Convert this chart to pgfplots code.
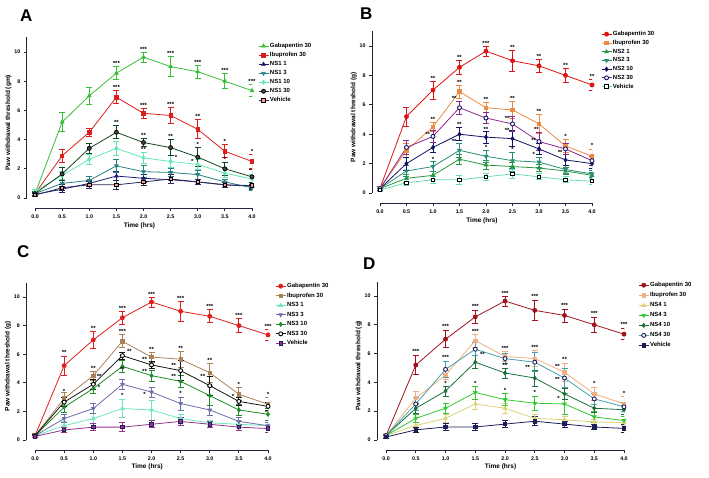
\documentclass[border=0pt]{standalone}
\usepackage{pgfplots}
\pgfplotsset{compat=1.18}
\usepackage{pgfplotstable}
\usepackage{fontspec}
\setmainfont{Liberation Sans}

% columns: t time, g gabapentin, i ibuprofen, a/b/c/d doses 1/3/10/30, v vehicle; *e = error
\pgfplotstableread{
t   g    ge   i    ie   a    ae   b    be   c    ce   d    de   v    ve
0.0 0.30 0.15 0.30 0.15 0.25 0.10 0.30 0.15 0.45 0.15 0.30 0.15 0.20 0.10
0.5 5.20 0.65 2.90 0.45 0.60 0.20 1.00 0.25 1.55 0.30 1.65 0.45 0.70 0.20
1.0 7.00 0.60 4.50 0.30 1.00 0.20 1.20 0.30 2.65 0.35 3.40 0.35 0.90 0.25
1.5 8.55 0.45 6.90 0.45 1.50 0.30 2.20 0.45 3.40 0.50 4.50 0.45 0.90 0.30
2.0 9.65 0.35 5.80 0.35 1.35 0.25 1.80 0.40 2.75 0.40 3.80 0.25 1.10 0.25
2.5 9.00 0.70 5.65 0.55 1.25 0.25 1.75 0.30 2.50 0.40 3.45 0.55 1.30 0.30
3.0 8.65 0.45 4.70 0.65 1.10 0.20 1.60 0.30 2.30 0.35 2.80 0.65 1.10 0.20
3.5 8.00 0.50 3.20 0.45 0.90 0.20 1.10 0.20 1.70 0.30 2.00 0.45 0.90 0.20
4.0 7.35 0.40 2.50 0.50 0.80 0.15 0.70 0.20 1.30 0.30 1.45 0.50 0.85 0.25
}\tabA
\pgfplotstableread{
t   g    ge   i    ie   a    ae   b    be   c    ce   d    de   v    ve
0.0 0.30 0.15 0.30 0.15 0.30 0.15 0.30 0.15 0.30 0.15 0.30 0.15 0.20 0.10
0.5 5.20 0.65 2.90 0.45 1.00 0.25 1.50 0.35 2.00 0.45 3.10 0.45 0.70 0.20
1.0 7.00 0.60 4.50 0.30 1.20 0.30 1.80 0.35 3.10 0.35 3.85 0.40 0.90 0.25
1.5 8.55 0.45 6.90 0.45 2.30 0.35 2.90 0.45 4.00 0.45 5.80 0.45 0.90 0.30
2.0 9.65 0.35 5.80 0.35 1.90 0.30 2.50 0.40 3.80 0.40 5.10 0.35 1.10 0.25
2.5 9.00 0.70 5.65 0.55 1.80 0.30 2.20 0.55 3.70 0.55 4.70 0.50 1.30 0.30
3.0 8.65 0.45 4.70 0.65 1.70 0.25 2.10 0.35 3.00 0.40 3.50 0.60 1.10 0.20
3.5 8.00 0.50 3.20 0.45 1.50 0.25 1.60 0.30 2.25 0.35 3.00 0.35 0.90 0.20
4.0 7.35 0.40 2.50 0.50 1.20 0.20 1.30 0.25 2.00 0.30 2.20 0.30 0.80 0.20
}\tabB
\pgfplotstableread{
t   g    ge   i    ie   a    ae   b    be   c    ce   d    de   v    ve
0.0 0.30 0.15 0.30 0.15 0.30 0.10 0.30 0.10 0.30 0.10 0.30 0.10 0.25 0.10
0.5 5.20 0.65 2.90 0.45 1.00 0.30 1.50 0.30 2.30 0.40 2.65 0.30 0.70 0.20
1.0 7.00 0.60 4.50 0.30 1.50 0.35 2.20 0.35 3.60 0.35 3.90 0.35 0.90 0.25
1.5 8.55 0.45 6.90 0.45 2.20 0.65 3.90 0.35 5.15 0.45 5.90 0.25 0.90 0.30
2.0 9.65 0.35 5.80 0.35 2.10 0.70 3.35 0.35 4.50 0.40 5.25 0.25 1.10 0.25
2.5 9.00 0.70 5.65 0.55 1.50 0.30 2.55 0.45 4.10 0.45 4.85 0.70 1.30 0.30
3.0 8.65 0.45 4.70 0.65 1.20 0.20 2.10 0.35 3.10 0.65 3.80 0.65 1.10 0.20
3.5 8.00 0.50 3.20 0.45 1.10 0.20 1.30 0.25 2.10 0.40 2.70 0.25 0.90 0.20
4.0 7.35 0.40 2.50 0.50 1.00 0.20 1.00 0.20 1.80 0.40 2.35 0.25 0.80 0.25
}\tabC
\pgfplotstableread{
t   g    ge   i    ie   a    ae   b    be   c    ce   d    de   v    ve
0.0 0.30 0.15 0.30 0.15 0.30 0.10 0.30 0.10 0.30 0.10 0.30 0.10 0.20 0.10
0.5 5.20 0.65 2.90 0.45 1.00 0.20 1.50 0.30 2.20 0.35 2.50 0.45 0.70 0.20
1.0 7.00 0.60 4.50 0.30 1.50 0.30 2.20 0.35 3.40 0.35 4.90 0.55 0.90 0.25
1.5 8.55 0.45 6.90 0.45 2.50 0.35 3.30 0.45 5.40 0.45 6.30 0.45 0.90 0.25
2.0 9.65 0.35 5.80 0.35 2.20 0.35 2.80 0.40 4.65 0.35 5.65 0.35 1.10 0.25
2.5 9.00 0.70 5.65 0.55 1.50 0.25 2.55 0.50 4.30 0.55 5.40 0.65 1.30 0.30
3.0 8.65 0.45 4.70 0.65 1.40 0.25 2.50 0.75 3.20 0.40 4.30 0.65 1.10 0.20
3.5 8.00 0.50 3.20 0.45 1.25 0.20 1.60 0.35 2.20 0.30 2.85 0.35 0.90 0.20
4.0 7.35 0.40 2.50 0.50 1.20 0.20 1.35 0.30 2.10 0.30 2.30 0.30 0.80 0.25
}\tabD

\definecolor{axc}{RGB}{35,35,60}
% panel A
\definecolor{gA}{RGB}{55,190,55}
\definecolor{iA}{RGB}{220,30,30}
\definecolor{aA}{RGB}{30,30,110}
\definecolor{bA}{RGB}{40,130,130}
\definecolor{cA}{RGB}{100,230,180}
\definecolor{dA}{RGB}{20,70,30}
\definecolor{vA}{RGB}{40,40,90}
% panel B
\definecolor{gB}{RGB}{220,20,20}
\definecolor{iB}{RGB}{235,140,70}
\definecolor{aB}{RGB}{40,150,60}
\definecolor{bB}{RGB}{40,140,120}
\definecolor{cB}{RGB}{20,20,100}
\definecolor{dB}{RGB}{140,40,140}
\definecolor{vB}{RGB}{100,220,180}
% panel C
\definecolor{gC}{RGB}{225,30,30}
\definecolor{iC}{RGB}{170,130,90}
\definecolor{aC}{RGB}{110,230,190}
\definecolor{bC}{RGB}{110,110,170}
\definecolor{cC}{RGB}{30,140,40}
\definecolor{dC}{RGB}{20,20,20}
\definecolor{vC}{RGB}{150,50,140}
% panel D
\definecolor{gD}{RGB}{160,20,30}
\definecolor{iD}{RGB}{240,175,130}
\definecolor{aD}{RGB}{220,210,120}
\definecolor{bD}{RGB}{50,200,50}
\definecolor{cD}{RGB}{30,110,60}
\definecolor{dD}{RGB}{70,160,170}
\definecolor{vD}{RGB}{30,30,90}

\pgfplotsset{
  panel/.style={
    scale only axis,
    xmin=-0.15, xmax=4, ymin=-0.7, ymax=11,
    axis x line=bottom, axis y line=left,
    x axis line style={-, shorten <=8.5pt, line width=0.9pt, axc},
    y axis line style={-, shorten <=10pt, line width=0.9pt, axc},
    xtick={0,0.5,...,4}, ytick={0,2,...,10},
    tick align=outside, major tick length=3pt,
    tick style={line width=0.8pt, axc},
    /pgf/number format/assume math mode=true,
    ticklabel style={font=\fontsize{5.3}{6}\selectfont\bfseries},
    xticklabel style={/pgf/number format/.cd, fixed, fixed zerofill, precision=1},
    yticklabel style={/pgf/number format/.cd, fixed, precision=0},
    xlabel={Time (hrs)},
    label style={font=\fontsize{6.5}{7}\selectfont\bfseries},
    xlabel style={yshift=3pt},
    ylabel style={yshift=-4pt},
    legend cell align=left,
    legend style={draw=none, fill=none, anchor=north west,
      font=\fontsize{6}{7}\selectfont\bfseries,
      nodes={inner sep=1pt}},
    legend image code/.code={
      \draw[mark repeat=2, mark phase=2, #1]
        plot coordinates {(0pt,0pt) (5pt,0pt) (10pt,0pt)};},
  },
  ser/.style={line width=0.8pt, mark size=2pt,
    error bars/y dir=both, error bars/y explicit,
    error bars/error bar style={line width=0.8pt, solid},
    error bars/error mark options={rotate=90, mark size=3pt, line width=0.8pt}},
  stars/.style={draw=none, mark=none, forget plot, nodes near coords,
    point meta=explicit symbolic,
    every node near coord/.style={font=\fontsize{6}{6}\selectfont\bfseries,
      inner sep=0pt, anchor=south, black}},
}

\begin{document}
\begin{tikzpicture}
\path[use as bounding box] (0,0) rectangle (709pt,477pt);

% ---------------- A
\begin{axis}[panel, at={(26.9pt,268.8pt)}, anchor=south west,
  width=225.1pt, height=170.8pt,
  ylabel={Paw withdrawal threshold (gm)},
  legend style={at={(1.013,0.985)}, row sep=1.3pt}]
\addplot[ser, gA, mark=triangle*] table[x=t, y=g, y error=ge]{\tabA};
\addlegendentry{Gabapentin 30}
\addplot[ser, iA, mark=square*, mark size=1.7pt] table[x=t, y=i, y error=ie]{\tabA};
\addlegendentry{Ibuprofen 30}
\addplot[ser, aA, mark=triangle*] table[x=t, y=a, y error=ae]{\tabA};
\addlegendentry{NS1 1}
\addplot[ser, bA, mark=triangle*, mark options={rotate=180}] table[x=t, y=b, y error=be]{\tabA};
\addlegendentry{NS1 3}
\addplot[ser, cA, mark=diamond*] table[x=t, y=c, y error=ce]{\tabA};
\addlegendentry{NS1 10}
\addplot[ser, dA, mark=*, mark options={draw=black, fill=black!70}] table[x=t, y=d, y error=de]{\tabA};
\addlegendentry{NS1 30}
\addplot[ser, vA, mark=square*, mark size=1.7pt, mark options={draw=black, fill=pink!80!red}] table[x=t, y=v, y error=ve]{\tabA};
\addlegendentry{Vehicle}
\addplot[stars] coordinates {(1.5,9.05)[***] (2.0,10.05)[***] (2.5,9.75)[***] (3.0,9.15)[***] (3.5,8.55)[***] (4.0,7.8)[***]
  (1.5,7.4)[***] (2.0,6.2)[***] (2.5,6.25)[***] (3.0,5.4)[**] (3.5,3.7)[*] (4.0,3.05)[*]
  (1.5,5.0)[**] (2.0,4.1)[**] (2.5,4.05)[**] (3.0,3.5)[*] (3.5,2.5)[*]
  (2.0,3.2)[**] (2.6,2.6)[*] (2.9,2.35)[*]};
\end{axis}

% ---------------- B
\begin{axis}[panel, at={(372pt,273.7pt)}, anchor=south west,
  width=220pt, height=172pt,
  ylabel={Paw withdrawal threshold (g)},
  legend style={at={(1.027,1.019)}, row sep=1.0pt}]
\addplot[ser, gB, mark=*] table[x=t, y=g, y error=ge]{\tabB};
\addlegendentry{Gabapentin 30}
\addplot[ser, iB, mark=square*, mark size=1.7pt] table[x=t, y=i, y error=ie]{\tabB};
\addlegendentry{Ibuprofen 30}
\addplot[ser, aB, mark=triangle*] table[x=t, y=a, y error=ae]{\tabB};
\addlegendentry{NS2 1}
\addplot[ser, bB, mark=triangle*, mark options={rotate=180}] table[x=t, y=b, y error=be]{\tabB};
\addlegendentry{NS2 3}
\addplot[ser, cB, mark=diamond*] table[x=t, y=c, y error=ce]{\tabB};
\addlegendentry{NS2 10}
\addplot[ser, dB, mark=*, mark options={draw=cB, fill=white, line width=0.9pt}] table[x=t, y=d, y error=de]{\tabB};
\addlegendentry{NS2 30}
\addplot[ser, vB, mark=square*, mark size=1.7pt, mark options={draw=black, fill=white, line width=0.9pt}] table[x=t, y=v, y error=ve]{\tabB};
\addlegendentry{Vehicle}
\addplot[stars] coordinates {(1.0,7.65)[**] (1.5,9.05)[**] (2.0,10.05)[***] (2.5,9.75)[**] (3.0,9.15)[**] (3.5,8.55)[**] (4.0,7.8)[**]
  (1.0,4.85)[**] (1.5,7.4)[**] (2.0,6.2)[**] (2.5,6.25)[**] (3.0,5.4)[**] (3.5,3.7)[*] (4.0,3.05)[*]
  (1.4,6.25)[**] (2.4,4.95)[**] (2.95,4.15)[**] (0.9,3.85)[**]
  (1.5,4.5)[**] (2.0,4.2)[**] (2.4,4.1)[**] (2.9,3.45)[**] (3.4,2.6)[**]
  (1.0,2.15)[*] (1.4,3.35)[**] (2.0,2.95)[*] (2.5,2.8)[*] (2.9,2.5)[*]};
\end{axis}

% ---------------- C
\begin{axis}[panel, at={(26.3pt,27pt)}, anchor=south west,
  width=241.7pt, height=167.3pt,
  ylabel={Paw withdrawal threshold (g)},
  legend style={at={(1.017,1.016)}, row sep=1.8pt}]
\addplot[ser, gC, mark=*] table[x=t, y=g, y error=ge]{\tabC};
\addlegendentry{Gabapentin 30}
\addplot[ser, iC, mark=square*, mark size=1.7pt] table[x=t, y=i, y error=ie]{\tabC};
\addlegendentry{Ibuprofen 30}
\addplot[ser, aC, mark=triangle*] table[x=t, y=a, y error=ae]{\tabC};
\addlegendentry{NS3 1}
\addplot[ser, bC, mark=triangle*, mark options={rotate=180}] table[x=t, y=b, y error=be]{\tabC};
\addlegendentry{NS3 3}
\addplot[ser, cC, mark=diamond*] table[x=t, y=c, y error=ce]{\tabC};
\addlegendentry{NS3 10}
\addplot[ser, dC, mark=*, mark options={draw=black, fill=white, line width=0.9pt}] table[x=t, y=d, y error=de]{\tabC};
\addlegendentry{NS3 30}
\addplot[ser, vC, mark=square*, mark size=1.7pt, mark options={draw=vD, fill=vC, line width=0.9pt}] table[x=t, y=v, y error=ve]{\tabC};
\addlegendentry{Vehicle}
\addplot[stars] coordinates {(0.5,5.95)[**] (1.0,7.65)[**] (1.5,9.05)[***] (2.0,10.05)[***] (2.5,9.75)[***] (3.0,9.15)[***] (3.5,8.55)[***] (4.0,7.8)[***]
  (1.0,4.85)[**] (1.5,7.4)[***] (2.0,6.2)[**] (2.5,6.25)[**] (3.0,5.4)[**] (3.5,3.7)[*] (4.0,3.05)[*]
  (0.5,3.25)[*] (1.1,4.3)[**] (1.62,6.05)[**] (1.88,5.45)[**] (2.38,5.05)[**] (2.88,4.3)[**] (3.4,2.9)[*]
  (1.5,4.75)[**] (1.88,4.65)[**] (2.38,4.3)[**] (1.1,3.55)[*]
  (1.5,2.95)[*] (1.88,3.0)[*] (2.5,3.1)[*]};
\end{axis}

% ---------------- D
\begin{axis}[panel, at={(377.1pt,27pt)}, anchor=south west,
  width=246.9pt, height=168.4pt,
  ylabel={Paw withdrawal threshold (g)},
  legend style={at={(1.045,1.015)}, row sep=2.3pt}]
\addplot[ser, gD, mark=*] table[x=t, y=g, y error=ge]{\tabD};
\addlegendentry{Gabapentin 30}
\addplot[ser, iD, mark=square*, mark size=1.7pt] table[x=t, y=i, y error=ie]{\tabD};
\addlegendentry{Ibuprofen 30}
\addplot[ser, aD, mark=triangle*] table[x=t, y=a, y error=ae]{\tabD};
\addlegendentry{NS4 1}
\addplot[ser, bD, mark=triangle*, mark options={rotate=180}] table[x=t, y=b, y error=be]{\tabD};
\addlegendentry{NS4 3}
\addplot[ser, cD, mark=diamond*] table[x=t, y=c, y error=ce]{\tabD};
\addlegendentry{NS4 10}
\addplot[ser, dD, mark=*, mark options={draw=vD, fill=white, line width=0.9pt}] table[x=t, y=d, y error=de]{\tabD};
\addlegendentry{NS4 30}
\addplot[ser, vD, mark=square*, mark size=1.7pt] table[x=t, y=v, y error=ve]{\tabD};
\addlegendentry{Vehicle}
\addplot[stars] coordinates {(0.5,6.0)[***] (1.0,7.7)[***] (1.5,9.1)[***] (2.0,10.05)[***] (2.5,9.8)[***] (3.0,9.2)[***] (3.5,8.6)[***] (4.0,7.85)[***]
  (1.0,5.55)[***] (1.5,7.4)[***] (2.0,6.2)[***] (2.5,6.25)[***] (3.0,5.45)[**] (3.5,3.75)[*] (4.0,3.1)[*]
  (1.0,3.8)[*] (1.62,5.75)[**] (2.0,5.05)[**] (2.38,4.85)[**] (2.88,4.95)[**] (2.88,4.05)[**]
  (1.5,3.8)[*] (2.0,3.25)[*] (2.5,3.15)[*] (2.9,2.75)[*]};
\end{axis}

\node[anchor=north west, inner sep=0pt, font=\fontsize{17}{17}\selectfont\bfseries] at (20pt,467pt) {A};
\node[anchor=north west, inner sep=0pt, font=\fontsize{17}{17}\selectfont\bfseries] at (360pt,469pt) {B};
\node[anchor=north west, inner sep=0pt, font=\fontsize{17}{17}\selectfont\bfseries] at (17pt,232pt) {C};
\node[anchor=north west, inner sep=0pt, font=\fontsize{17}{17}\selectfont\bfseries] at (363pt,219pt) {D};
\end{tikzpicture}
\end{document}
